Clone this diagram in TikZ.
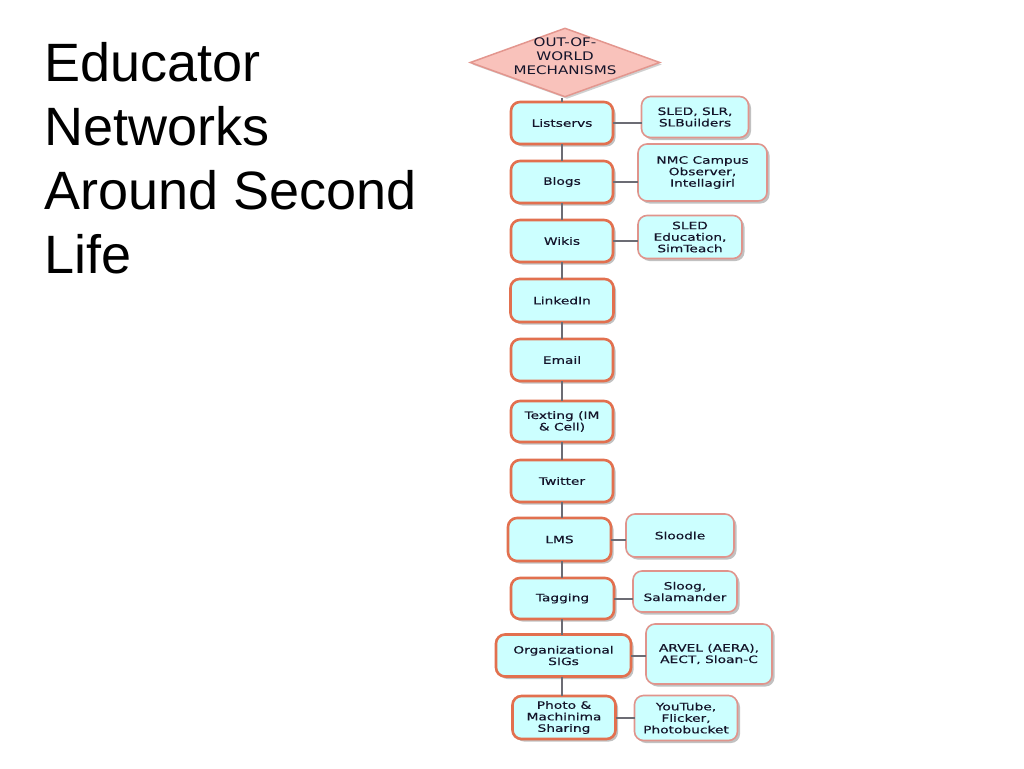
\documentclass[tikz,border=0pt]{standalone}
\usepackage{fontspec}
\setmainfont{Liberation Sans}
\newfontfamily\boxfont[FakeStretch=1.35,FakeBold=0.4]{DejaVu Sans}
\newfontfamily\diafont[FakeStretch=1.28]{DejaVu Sans}
\usetikzlibrary{shapes.geometric,shadows}
\definecolor{boxfill}{HTML}{CCFFFF}
\definecolor{lborder}{HTML}{E2704F}
\definecolor{rborder}{HTML}{E0948C}
\definecolor{dfill}{HTML}{F9C2BB}
\definecolor{dborder}{HTML}{E3968E}
\definecolor{conn}{HTML}{6C6C74}
\definecolor{txt}{HTML}{14142A}
\begin{document}
\begin{tikzpicture}[x=1pt,y=-1pt,
  base/.style={rectangle, rounded corners=9pt, fill=boxfill, align=center,
    inner sep=1pt, outer sep=0pt, text=txt,
    font=\boxfont\fontsize{10.2}{11.5}\selectfont,
    drop shadow={shadow xshift=2.5pt, shadow yshift=-2.5pt, opacity=0.4, fill=black!60}},
  lbox/.style={base, draw=lborder, line width=2.6pt},
  rbox/.style={base, draw=rborder, line width=1.6pt},
  conn/.style={draw=conn, line width=2pt},
  title/.style={anchor=north west, inner sep=0pt, align=left,
    font=\fontsize{54}{64}\selectfont}]
\useasboundingbox (0,0) rectangle (1024,768);
\fill[white] (0,0) rectangle (1024,768);

\node[title] (t) at (44,42) {Educator\\Networks\\Around Second\\Life};

\coordinate (sp) at (562,0);
\node[diamond, aspect=2.74, minimum width=190pt, minimum height=69pt, inner sep=0pt,
  fill=dfill, draw=dborder, line width=1.5pt,
  drop shadow={shadow xshift=2pt, shadow yshift=-2pt, opacity=0.3, fill=black!60},
  label={[text=txt, align=center, yshift=6pt, font=\diafont\fontsize{11.8}{13.8}\selectfont]center:OUT-OF-\\WORLD\\MECHANISMS}]
  (d) at (565,62.5) {};

% left column
\node[lbox, minimum width=102pt, minimum height=42pt] (l1) at (562,123) {Listservs};
\node[lbox, minimum width=102pt, minimum height=42pt] (l2) at (562,182) {Blogs};
\node[lbox, minimum width=102pt, minimum height=42pt] (l3) at (562,241) {Wikis};
\node[lbox, minimum width=103pt, minimum height=43pt] (l4) at (562,300.5) {LinkedIn};
\node[lbox, minimum width=102pt, minimum height=42pt] (l5) at (562,360) {Email};
\node[lbox, minimum width=102pt, minimum height=41pt] (l6) at (562,421.5) {Texting (IM\\\& Cell)};
\node[lbox, minimum width=102pt, minimum height=42pt] (l7) at (562,481) {Twitter};
\node[lbox, minimum width=103pt, minimum height=43pt] (l8) at (559.5,539.5) {LMS};
\node[lbox, minimum width=103pt, minimum height=41pt] (l9) at (562.5,598.5) {Tagging};
\node[lbox, minimum width=135pt, minimum height=42pt] (l10) at (563.5,655.5) {Organizational\\SIGs};
\node[lbox, minimum width=103pt, minimum height=43pt] (l11) at (564,717.5) {Photo \&\\Machinima\\Sharing};

% right column
\node[rbox, minimum width=107pt, minimum height=41pt] (r1) at (695,117) {SLED, SLR,\\SLBuilders};
\node[rbox, minimum width=129pt, minimum height=57pt] (r2) at (702.5,172.5) {NMC Campus\\Observer,\\Intellagirl};
\node[rbox, minimum width=104pt, minimum height=43pt] (r3) at (690,237) {SLED\\Education,\\SimTeach};
\node[rbox, minimum width=108pt, minimum height=43pt] (r8) at (680,535.5) {Sloodle};
\node[rbox, minimum width=104pt, minimum height=41pt] (r9) at (685,591.5) {Sloog,\\Salamander};
\node[rbox, minimum width=126pt, minimum height=60pt] (r10) at (709,654) {ARVEL (AERA),\\AECT, Sloan-C};
\node[rbox, minimum width=103pt, minimum height=45pt] (r11) at (686,718) {YouTube,\\Flicker,\\Photobucket};

% connectors
\foreach \a/\b in {d/l1,l1/l2,l2/l3,l3/l4,l4/l5,l5/l6,l6/l7,l7/l8,l8/l9,l9/l10,l10/l11}
  \draw[conn] (\a.south -| sp) -- (\b.north -| sp);
\foreach \a/\b in {l1/r1,l2/r2,l3/r3,l8/r8,l9/r9,l10/r10,l11/r11}
  \draw[conn] (\a.east) -- (\a.east -| \b.west);
\end{tikzpicture}
\end{document}
